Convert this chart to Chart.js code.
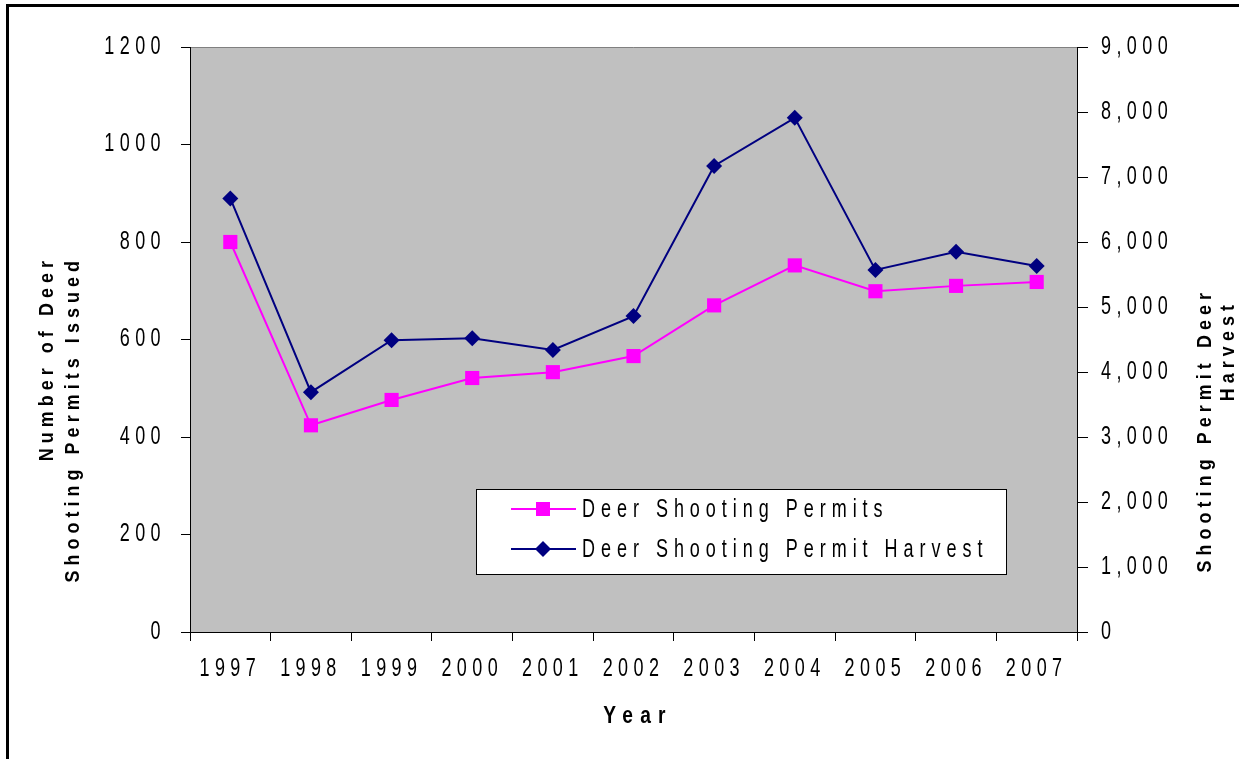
<!DOCTYPE html>
<html>
<head>
<meta charset="utf-8">
<script src="https://cdn.jsdelivr.net/npm/chart.js@4/dist/chart.umd.min.js"></script>
<style>
  html,body{margin:0;padding:0;background:#fff;overflow:hidden}
  #frame{position:absolute;left:6px;top:4px;width:1400px;height:900px;border-top:3px solid #000;border-left:3px solid #000}
  #c{position:absolute;left:0;top:0}
</style>
</head>
<body>
<div id="frame"></div>
<canvas id="c" width="1239" height="759"></canvas>
<script>
const years = ['1997','1998','1999','2000','2001','2002','2003','2004','2005','2006','2007'];
const permits = [800, 424, 476, 521, 533, 566, 670, 752, 699, 710, 718];
const harvest = [6670, 3690, 4490, 4520, 4340, 4860, 7170, 7910, 5570, 5850, 5630];
const leftTicks = {min: 0, max: 1200, step: 200};
const rightTicks = {min: 0, max: 9000, step: 1000};

const FONT = "'Liberation Sans',Arial,sans-serif";
const PINK = '#FF00FF', NAVY = '#000080';
const TICK_SX = 0.72;

// the original text is tall and narrow: squeeze glyphs horizontally
let textSX = TICK_SX;
function condense(ctx){
  const fill = ctx.fillText.bind(ctx), measure = ctx.measureText.bind(ctx);
  ctx.fillText = function(t, x, y, mw){
    ctx.save(); ctx.translate(x, y); ctx.scale(textSX, 1);
    if (mw === undefined) fill(t, 0, 0); else fill(t, 0, 0, mw/textSX);
    ctx.restore();
  };
  ctx.measureText = function(t){
    const m = measure(t);
    return {width: m.width*textSX, actualBoundingBoxAscent: m.actualBoundingBoxAscent, actualBoundingBoxDescent: m.actualBoundingBoxDescent};
  };
}
function spaced(ctx, px){ if ('letterSpacing' in ctx) ctx.letterSpacing = px+'px'; }

const background = {
  id:'background',
  beforeUpdate(ch){ spaced(ch.ctx, 7.5); textSX = TICK_SX; },
  beforeDraw(ch){
    spaced(ch.ctx, 7.5); textSX = TICK_SX;
    const a = ch.chartArea, ctx = ch.ctx;
    ctx.save();
    ctx.fillStyle = '#C0C0C0';
    ctx.fillRect(a.left, a.top, a.right-a.left, a.bottom-a.top);
    ctx.strokeStyle = '#808080'; ctx.lineWidth = 1;
    ctx.beginPath(); ctx.moveTo(a.left, a.top+0.5); ctx.lineTo(a.right, a.top+0.5); ctx.stroke();
    ctx.restore();
  }
};

function drawMarker(ctx, style, x, y, color){
  ctx.fillStyle = color;
  ctx.beginPath();
  if (style==='rect'){ ctx.rect(x-7, y-7, 14, 14); }
  else { ctx.moveTo(x-8,y); ctx.lineTo(x,y-8); ctx.lineTo(x+8,y); ctx.lineTo(x,y+8); ctx.closePath(); }
  ctx.fill();
}

const extras = {
  id:'extras',
  afterDraw(ch){
    const ctx = ch.ctx;
    ctx.save();
    // legend
    ctx.fillStyle = '#fff'; ctx.strokeStyle = '#000'; ctx.lineWidth = 1;
    ctx.fillRect(476.5, 489.5, 530, 85); ctx.strokeRect(476.5, 489.5, 530, 85);
    ch.data.datasets.forEach((ds, i)=>{
      const y = 509 + i*40;
      ctx.strokeStyle = ds.borderColor; ctx.lineWidth = 2;
      ctx.beginPath(); ctx.moveTo(511, y); ctx.lineTo(576, y); ctx.stroke();
      drawMarker(ctx, ds.pointStyle, 543, y, ds.borderColor);
      textSX = TICK_SX;
      ctx.fillStyle = '#000'; ctx.font = '25px '+FONT; spaced(ctx, 8.3);
      ctx.textAlign = 'left'; ctx.textBaseline = 'middle';
      ctx.fillText(ds.label, 582, y+1);
    });
    // axis titles
    textSX = 0.85;
    ctx.font = 'bold 21px '+FONT; spaced(ctx, 6);
    ctx.fillStyle = '#000'; ctx.textBaseline = 'middle'; ctx.textAlign = 'right';
    const vt = (txt, x, yEnd)=>{ ctx.save(); ctx.translate(x, yEnd); ctx.rotate(-Math.PI/2); ctx.fillText(txt, 0, 0); ctx.restore(); };
    vt('Number of Deer', 47, 256);
    vt('Shooting Permits Issued', 73, 256);
    vt('Shooting Permit Deer', 1205, 288);
    vt('Harvest', 1228, 300);
    textSX = 0.8;
    ctx.font = 'bold 24px '+FONT; spaced(ctx, 9); ctx.textAlign = 'center';
    ctx.fillText('Year', 638, 716);
    ctx.restore();
    textSX = TICK_SX;
  }
};

const axisFont = {family: FONT, size: 25};
const ctx = document.getElementById('c').getContext('2d');
condense(ctx);

new Chart(ctx, {
  type: 'line',
  data: {
    labels: years,
    datasets: [
      {label:'Deer Shooting Permits', data: permits, yAxisID:'y', borderColor: PINK, backgroundColor: PINK,
       borderWidth: 2, pointStyle:'rect', pointRadius: 10, pointBorderWidth: 0, tension: 0},
      {label:'Deer Shooting Permit Harvest', data: harvest, yAxisID:'y2', borderColor: NAVY, backgroundColor: NAVY,
       borderWidth: 2, pointStyle:'rectRot', pointRadius: 8, pointBorderWidth: 0, tension: 0}
    ]
  },
  options: {
    responsive: false, animation: false, devicePixelRatio: 1,
    layout: {padding: {top: 47, left: 0, right: 0, bottom: 0}},
    plugins: {legend: {display: false}, tooltip: {enabled: false}},
    scales: {
      x: {
        offset: true,
        grid: {offset: true, drawOnChartArea: false, drawTicks: true, tickLength: 9, tickColor: '#000'},
        border: {color: '#000', width: 1},
        ticks: {color: '#000', font: axisFont, padding: 13, maxRotation: 0, autoSkip: false},
        afterFit(s){ s.height = 127; }
      },
      y: {
        position: 'left', min: leftTicks.min, max: leftTicks.max,
        grid: {drawOnChartArea: false, drawTicks: true, tickLength: 9, tickColor: '#000'},
        border: {color: '#000', width: 1},
        ticks: {stepSize: leftTicks.step, color: '#000', font: axisFont, padding: 15, callback: v => String(v)},
        afterFit(s){ s.width = 190; }
      },
      y2: {
        position: 'right', min: rightTicks.min, max: rightTicks.max,
        grid: {drawOnChartArea: false, drawTicks: true, tickLength: 11, tickColor: '#000'},
        border: {color: '#000', width: 1},
        ticks: {stepSize: rightTicks.step, color: '#000', font: axisFont, padding: 13,
                callback: v => v.toLocaleString('en-US')},
        afterFit(s){ s.width = 162; }
      }
    }
  },
  plugins: [background, extras]
});
</script>
</body>
</html>
